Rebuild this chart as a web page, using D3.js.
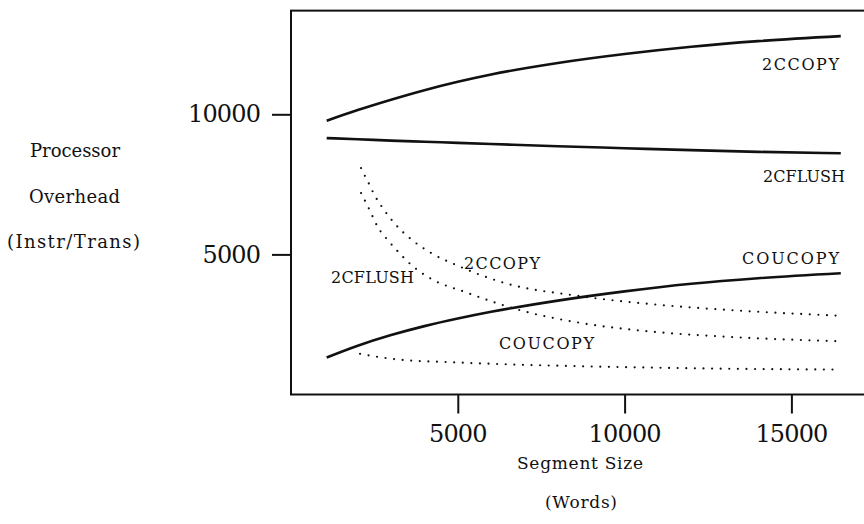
<!DOCTYPE html>
<html>
<head>
<meta charset="utf-8">
<script src="https://cdn.jsdelivr.net/npm/d3@7"></script>
<style>
  html, body { margin: 0; padding: 0; background: #fff; }
  svg text { font-family: "DejaVu Serif", "Liberation Serif", serif; fill: #111; }
</style>
</head>
<body>
<div id="chart"></div>
<script>
// segment size (words) and overhead (instr/trans)
const solidX  = [1070, 2000, 3000, 4000, 5000, 6000, 8000, 10000, 12000, 14000, 16480];
const copy2C  = [9770, 10150, 10520, 10860, 11160, 11420, 11830, 12150, 12410, 12610, 12790];
const flush2C = [9150, 9110, 9060, 9020, 8980, 8940, 8860, 8790, 8720, 8660, 8610];
const coucopy = [1320, 1740, 2120, 2440, 2710, 2950, 3350, 3680, 3950, 4150, 4330];

// dotted curves
const copy2CdX  = [2100, 2220, 2350, 2470, 2770, 3110, 3610, 4200, 5030, 6370, 8600, 10840, 13070, 16480];
const copy2Cd   = [8080, 7790, 7490, 7190, 6620, 6100, 5530, 5050, 4580, 3990, 3520, 3220, 3020, 2810];
const flush2CdX = [2100, 2350, 2600, 2930, 3350, 3610, 4140, 5260, 6920, 8600, 10840, 13070, 16480];
const flush2Cd  = [7190, 6600, 5980, 5470, 4920, 4620, 4170, 3640, 2990, 2570, 2240, 2060, 1900];
const coucopyDX = [2070, 2850, 3600, 4620, 5910, 8600, 10840, 13070, 16480];
const coucopyD  = [1450, 1300, 1210, 1160, 1100, 1010, 960, 920, 890];

const xTicks = [5000, 10000, 15000];
const yTicks = [5000, 10000];
const seriesNames = ["2CCOPY", "2CFLUSH", "COUCOPY"];

const width = 864, height = 524;

const svg = d3.select("#chart").append("svg")
  .attr("width", width)
  .attr("height", height);

const x = d3.scaleLinear().domain([0, 17500]).range([291, 874.8]);
const y = d3.scaleLinear().domain([0, 10000]).range([394.5, 114.3]);

const ink = "#111";

// frame (right side runs off the page)
svg.append("rect")
  .attr("x", x(0)).attr("y", y(13700))
  .attr("width", x(17500) - x(0)).attr("height", y(0) - y(13700))
  .attr("fill", "none").attr("stroke", ink).attr("stroke-width", 2);

// axes
const yAxis = svg.append("g")
  .attr("transform", `translate(${x(0)},0)`)
  .call(d3.axisLeft(y).tickValues(yTicks).tickSize(19).tickPadding(11).tickFormat(d3.format("d")));
const xAxis = svg.append("g")
  .attr("transform", `translate(0,${y(0)})`)
  .call(d3.axisBottom(x).tickValues(xTicks).tickSize(19).tickPadding(11).tickFormat(d3.format("d")));

[yAxis, xAxis].forEach(g => {
  g.select(".domain").remove();
  g.selectAll(".tick line").attr("stroke", ink).attr("stroke-width", 2);
  g.selectAll(".tick text")
    .attr("font-size", 24)
    .attr("fill", ink)
    .style("font-family", "'DejaVu Serif', serif")
    .attr("textLength", d => String(d).length * 14.6)
    .attr("lengthAdjust", "spacing");
});

const line = d3.line()
  .x(d => x(d[0]))
  .y(d => y(d[1]))
  .curve(d3.curveMonotoneX);

const solid = [
  [solidX, copy2C],
  [solidX, flush2C],
  [solidX, coucopy]
];
const dotted = [
  [copy2CdX, copy2Cd],
  [flush2CdX, flush2Cd],
  [coucopyDX, coucopyD]
];

svg.append("g").selectAll("path")
  .data(solid)
  .join("path")
  .attr("d", s => line(d3.zip(s[0], s[1])))
  .attr("fill", "none")
  .attr("stroke", ink)
  .attr("stroke-width", 2.6);

svg.append("g").selectAll("path")
  .data(dotted)
  .join("path")
  .attr("d", s => line(d3.zip(s[0], s[1])))
  .attr("fill", "none")
  .attr("stroke", ink)
  .attr("stroke-width", 2.2)
  .attr("stroke-linecap", "round")
  .attr("stroke-dasharray", "0 8.6");

function label(txt, px, py, size, len, anchor) {
  svg.append("text")
    .attr("x", px).attr("y", py)
    .attr("font-size", size)
    .attr("text-anchor", anchor || "start")
    .attr("textLength", len)
    .attr("lengthAdjust", "spacing")
    .text(txt);
}

// curve labels
label(seriesNames[0], 762, 69.5, 16, 77);
label(seriesNames[1], 763, 182, 16, 82);
label(seriesNames[2], 742, 264, 16, 97);
label(seriesNames[0], 464, 269, 16, 76);
label(seriesNames[1], 331, 283, 16, 83);
label(seriesNames[2], 499, 349, 16, 95);

// axis titles
label("Processor", 75, 157, 18, 90, "middle");
label("Overhead", 74.5, 203, 18, 91, "middle");
label("(Instr/Trans)", 73.5, 248, 18, 133, "middle");
label("Segment Size", 580, 469, 17, 126, "middle");
label("(Words)", 581, 508, 17, 72, "middle");
</script>
</body>
</html>
